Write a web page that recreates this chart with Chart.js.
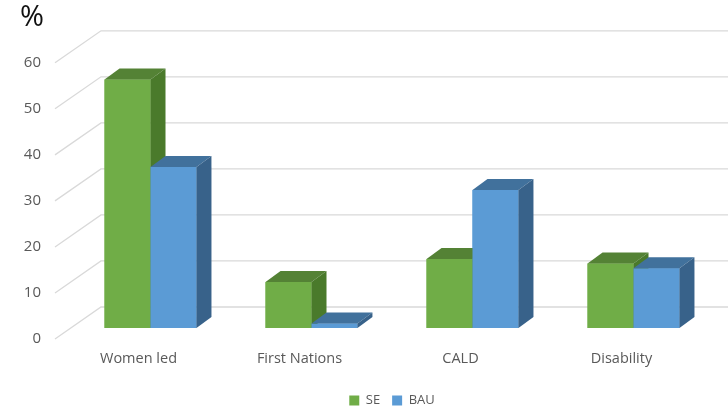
<!DOCTYPE html>
<html>
<head>
<meta charset="utf-8">
<script src="https://cdn.jsdelivr.net/npm/chart.js@4.4.0/dist/chart.umd.min.js"></script>
<style>
  html, body { margin: 0; padding: 0; background: #fff; }
  #wrap { width: 728px; height: 409px; }
</style>
</head>
<body>
<div id="wrap"><canvas id="chart"></canvas></div>
<script>
const categories = ["Women led", "First Nations", "CALD", "Disability"];
const seValues = [54, 10, 15, 14];
const bauValues = [35, 1, 30, 13];
const yTicks = [0, 10, 20, 30, 40, 50, 60];

// 3d look: offsets of the bar depth and of the back wall / front edge
const DEPTH = { dx: 15, dy: -11 };
const BACK = { dx: 31, dy: -21 };
const FRONT = { dx: -15, dy: 11 };

const threeD = {
  id: "threeD",
  beforeDatasetsDraw(chart) {
    const ctx = chart.ctx;
    const y = chart.scales.y;
    const area = chart.chartArea;
    ctx.save();
    ctx.strokeStyle = "#d9d9d9";
    ctx.lineWidth = 1.3;
    y.ticks.forEach((t) => {
      const p = y.getPixelForValue(t.value);
      ctx.beginPath();
      ctx.moveTo(area.left + FRONT.dx, p + FRONT.dy);
      ctx.lineTo(area.left + BACK.dx, p + BACK.dy);
      ctx.lineTo(chart.width + 5, p + BACK.dy);
      ctx.stroke();
    });
    ctx.restore();
  },
  // redraw bars dataset by dataset (left one first) and add top + side faces,
  // so each bar's front hides the side face of the bar to its left
  afterDatasetsDraw(chart) {
    const ctx = chart.ctx;
    ctx.save();
    chart.data.datasets.forEach((ds, i) => {
      const meta = chart.getDatasetMeta(i);
      meta.data.forEach((bar) => {
        bar.draw(ctx);
        const { x, y, base, width } = bar.getProps(["x", "y", "base", "width"], true);
        const x0 = x - width / 2;
        const x1 = x + width / 2;
        ctx.fillStyle = ds.topColor;
        ctx.beginPath();
        ctx.moveTo(x0, y);
        ctx.lineTo(x0 + DEPTH.dx, y + DEPTH.dy);
        ctx.lineTo(x1 + DEPTH.dx, y + DEPTH.dy);
        ctx.lineTo(x1, y);
        ctx.closePath();
        ctx.fill();
        ctx.fillStyle = ds.sideColor;
        ctx.beginPath();
        ctx.moveTo(x1, y);
        ctx.lineTo(x1 + DEPTH.dx, y + DEPTH.dy);
        ctx.lineTo(x1 + DEPTH.dx, base + DEPTH.dy);
        ctx.lineTo(x1, base);
        ctx.closePath();
        ctx.fill();
      });
    });
    ctx.restore();
  },
};

new Chart(document.getElementById("chart"), {
  type: "bar",
  data: {
    labels: categories,
    datasets: [
      {
        label: "SE",
        data: seValues,
        backgroundColor: "#70ad47",
        topColor: "#548235",
        sideColor: "#4a7a2b",
      },
      {
        label: "BAU",
        data: bauValues,
        backgroundColor: "#5b9bd5",
        topColor: "#41719c",
        sideColor: "#38628a",
      },
    ],
  },
  options: {
    responsive: true,
    maintainAspectRatio: false,
    animation: false,
    categoryPercentage: 0.571,
    barPercentage: 1.0,
    layout: { padding: { left: 20, right: 14, top: 0, bottom: -8 } },
    plugins: {
      tooltip: { enabled: false },
      title: {
        display: true,
        text: "%",
        align: "start",
        color: "#111",
        font: { family: "Open Sans", size: 29, weight: "normal" },
        padding: { top: 0, bottom: 17 },
      },
      legend: {
        position: "bottom",
        fullSize: false,
        labels: {
          color: "#595959",
          font: { family: "Open Sans", size: 13 },
          boxWidth: 10,
          boxHeight: 10,
          padding: 12,
        },
      },
    },
    scales: {
      x: {
        grid: { display: false, drawTicks: false },
        border: { display: false },
        ticks: {
          color: "#595959",
          font: { family: "Open Sans", size: 14.5 },
          padding: 22,
          labelOffset: -12,
          maxRotation: 0,
        },
        afterFit(scale) {
          scale.height = 54;
        },
      },
      y: {
        min: 0,
        max: 60,
        grid: { display: false, drawTicks: false },
        border: { display: false },
        afterBuildTicks(scale) {
          scale.ticks = yTicks.map((v) => ({ value: v }));
        },
        ticks: {
          color: "#595959",
          font: { family: "Open Sans", size: 15 },
          padding: 29,
          labelOffset: 11,
        },
        afterFit(scale) {
          scale.width = 50;
        },
      },
    },
  },
  plugins: [threeD],
});
</script>
</body>
</html>
